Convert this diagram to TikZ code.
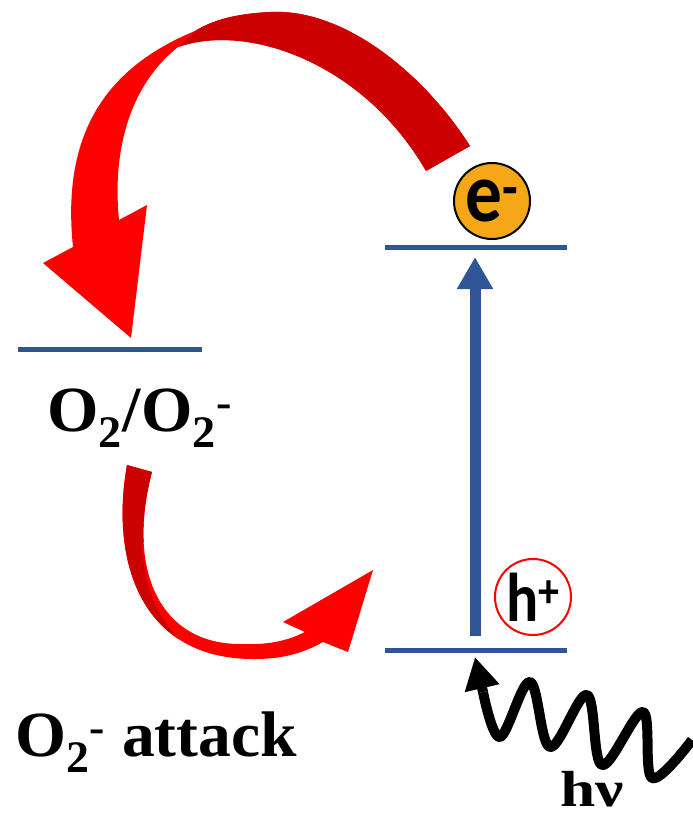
\documentclass[tikz,border=0pt]{standalone}
\usepackage{fontspec}
\usepackage{graphicx}
\setmainfont{Liberation Serif}
\newfontfamily\carlito{Carlito}
\usetikzlibrary{arrows.meta}
\definecolor{lvlblue}{RGB}{47,85,151}
\definecolor{arrowred}{RGB}{255,0,0}
\definecolor{darkred}{RGB}{204,0,0}
\definecolor{eorange}{RGB}{245,167,24}
\tikzset{
  level/.style={draw=lvlblue, line width=3.75pt},
  excite/.style={draw=lvlblue, line width=8.25pt, -{Triangle[width=25.5pt,length=24pt]}},
  photon/.style={draw=black, line width=7.5pt, line join=round},
  carrier/.style={circle, minimum size=57pt, inner sep=0pt, line width=1.5pt},
  ecirc/.style={carrier, draw=black, fill=eorange, font=\carlito\bfseries\fontsize{55}{55}\selectfont},
  hcirc/.style={carrier, draw=red, fill=white, font=\carlito\bfseries\fontsize{45}{45}\selectfont},
  redoxlbl/.style={inner sep=0pt, anchor=base, font=\bfseries\fontsize{42}{46}\selectfont},
  hnulbl/.style={inner sep=0pt, anchor=base, font=\bfseries\fontsize{38}{40}\selectfont}
}
\begin{document}
\begin{tikzpicture}[x=0.75pt,y=-0.75pt]
\useasboundingbox (0,0) rectangle (692,820);
% energy levels
\coordinate (oxL) at (18,349);  \coordinate (oxR) at (202,349);
\coordinate (cbL) at (385,247); \coordinate (cbR) at (567,247);
\coordinate (vbL) at (385,650); \coordinate (vbR) at (567,650);
\draw[level] (oxL) -- (oxR);
\draw[level] (cbL) -- (cbR);
\draw[level] (vbL) -- (vbR);
% excitation
\coordinate (exc0) at (475,636);
\coordinate (exc1) at (475,257);
\draw[excite] (exc0) -- (exc1);
% carriers
\node[ecirc] (elec) at (492,201) {\scalebox{1}[1.15]{e\textsuperscript{-}}};
\node[hcirc] (hole) at (533,597) {\scalebox{1}[1.15]{h\textsuperscript{+}}};
% electron transfer arrow
\begin{scope}
\clip (470,146) .. controls (425,75) and (345,8) .. (270,12)
  .. controls (230,14) and (210,22) .. (195,31)
  .. controls (100,70) and (62,140) .. (73,247)
  -- (43,263) -- (131,338) -- (147,205) -- (119,220)
  .. controls (112,150) and (130,85) .. (178,47)
  .. controls (250,22) and (365,65) .. (426,171) -- cycle;
\fill[arrowred] (0,0) rectangle (500,350);
\fill[darkred] (228,0) -- (172,53) -- (300,120) -- (500,200) -- (500,0) -- cycle;
\end{scope}
% attack arrow
\begin{scope}
\clip (127,465) .. controls (110,560) and (140,660) .. (255,659)
  .. controls (285,659) and (305,652) .. (323,642)
  -- (348,652) -- (373,570) -- (283,622) -- (305,632)
  .. controls (285,642) and (265,645) .. (240,644)
  .. controls (160,644) and (126,570) .. (152,472) -- cycle;
\fill[arrowred] (100,440) rectangle (400,680);
\fill[darkred] (100,440) -- (200,440) -- (142,545)
  .. controls (145,600) and (165,630) .. (200,660) -- (100,680) -- cycle;
\end{scope}
% light
\coordinate (wave0) at (483,692);
\coordinate (tip) at (475,657);
\draw[photon] plot[smooth, tension=0.6] coordinates {(692,740) (652,778) (643,712)
  (602,765) (587,695) (550,747) (530,682) (500,737) (483,692)};
\draw[photon, -{Triangle[width=25pt,length=24pt]}] (wave0) -- (tip);
% labels
\node[redoxlbl] (couple) at (140,431) {\scalebox{1.18}[1.15]{O\textsubscript{2}/O\textsubscript{2}\textsuperscript{-}}};
\node[redoxlbl] (attack) at (156,756) {\scalebox{1.17}[1.15]{O\textsubscript{2}\textsuperscript{-} attack}};
\node[hnulbl] (hnu) at (592,806) {\scalebox{1.25}[1]{hν}};
\end{tikzpicture}
\end{document}
